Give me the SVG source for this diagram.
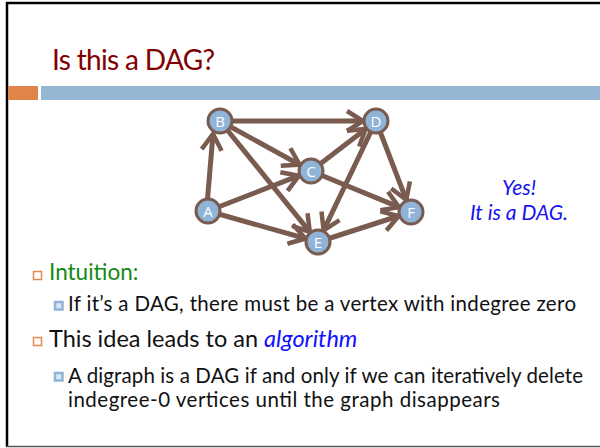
<svg xmlns="http://www.w3.org/2000/svg" width="600" height="448" viewBox="0 0 600 448">
<defs>
<style>
.edge{stroke:#7a5b4f;stroke-width:5;fill:none}
.node circle{fill:#8fb4d8;stroke:#7a5b4f;stroke-width:3}
.node text{fill:#ffffff;font-family:"Open Sans","DejaVu Sans",sans-serif;font-size:15px;text-anchor:middle}
.body{font-family:Lato,"Liberation Sans",sans-serif;fill:#111111}
.b1{fill:#ffffff;stroke:#e08a50;stroke-width:1.5}
.b2{fill:#dce7f2;stroke:#8fb4d8;stroke-width:2.5}
</style>
<marker id="ah" markerUnits="userSpaceOnUse" viewBox="-24 -14 28 28" markerWidth="28" markerHeight="28" refX="0" refY="0" orient="auto" overflow="visible">
<path d="M-16,-10 L0,0 L-16,10" fill="none" stroke="#7a5b4f" stroke-width="4.5"/>
</marker>
</defs>
<rect x="0" y="0" width="600" height="448" fill="#ffffff"/>
<line x1="6" y1="3" x2="600" y2="3" stroke="#000" stroke-width="2.5"/>
<line x1="7" y1="2" x2="7" y2="447" stroke="#000" stroke-width="2.5"/>
<line x1="6" y1="446.5" x2="600" y2="446.5" stroke="#555" stroke-width="1.5"/>
<text x="52" y="70" font-family="Lato,'Liberation Sans',sans-serif" font-size="28" fill="#800000" textLength="163">Is this a DAG?</text>
<rect x="8" y="86" width="30" height="14" fill="#e0854a"/>
<rect x="41" y="86" width="559" height="14" fill="#95b6d3"/>
<g id="connectors">
<line class="edge" x1="207" y1="205" x2="213" y2="134" marker-end="url(#ah)"/>
<line class="edge" x1="208" y1="211" x2="298.9" y2="175.7" marker-end="url(#ah)"/>
<line class="edge" x1="208" y1="211" x2="305.5" y2="238.5" marker-end="url(#ah)"/>
<line class="edge" x1="220" y1="121" x2="363" y2="121" marker-end="url(#ah)"/>
<line class="edge" x1="220" y1="121" x2="299.6" y2="164.7" marker-end="url(#ah)"/>
<line class="edge" x1="220" y1="121" x2="309.8" y2="231.9" marker-end="url(#ah)"/>
<line class="edge" x1="311" y1="171" x2="365.7" y2="128.9" marker-end="url(#ah)"/>
<line class="edge" x1="311" y1="171" x2="399" y2="207.1" marker-end="url(#ah)"/>
<line class="edge" x1="376" y1="121" x2="323.6" y2="230.3" marker-end="url(#ah)"/>
<line class="edge" x1="376" y1="121" x2="406.3" y2="199.9" marker-end="url(#ah)"/>
<line class="edge" x1="318" y1="242" x2="398.6" y2="216" marker-end="url(#ah)"/>
</g>
<g id="node-A" class="node"><circle cx="208" cy="211" r="12"/><text x="208" y="216.5">A</text></g>
<g id="node-B" class="node"><circle cx="220" cy="121" r="12"/><text x="220" y="126.5">B</text></g>
<g id="node-C" class="node"><circle cx="311" cy="171" r="12"/><text x="311" y="176.5">C</text></g>
<g id="node-D" class="node"><circle cx="376" cy="121" r="12"/><text x="376" y="126.5">D</text></g>
<g id="node-E" class="node"><circle cx="318" cy="242" r="12"/><text x="318" y="247.5">E</text></g>
<g id="node-F" class="node"><circle cx="411" cy="212" r="12"/><text x="411" y="217.5">F</text></g>
<g font-family="Lato,'Liberation Sans',sans-serif" font-style="italic" font-size="21" fill="#1414f0" text-anchor="middle">
<text x="519" y="195">Yes!</text>
<text x="519" y="220">It is a DAG.</text>
</g>
<rect class="b1" x="33.5" y="271.5" width="8" height="8"/>
<text class="body" x="49" y="280" font-size="22.5" style="fill:#138a13">Intuition:</text>
<rect class="b2" x="55" y="302" width="7.5" height="7.5"/>
<text class="body" x="68" y="311" font-size="20.5" textLength="508">If it’s a DAG, there must be a vertex with indegree zero</text>
<rect class="b1" x="33.5" y="337.5" width="8" height="8"/>
<text class="body" x="49" y="347" font-size="23.5">This idea leads to an <tspan font-style="italic" style="fill:#1010ff">algorithm</tspan></text>
<rect class="b2" x="55" y="373" width="7.5" height="7.5"/>
<text class="body" x="68" y="383" font-size="20.5" textLength="515">A digraph is a DAG if and only if we can iteratively delete</text>
<text class="body" x="68" y="407" font-size="20.5" textLength="432">indegree-0 vertices until the graph disappears</text>
</svg>
